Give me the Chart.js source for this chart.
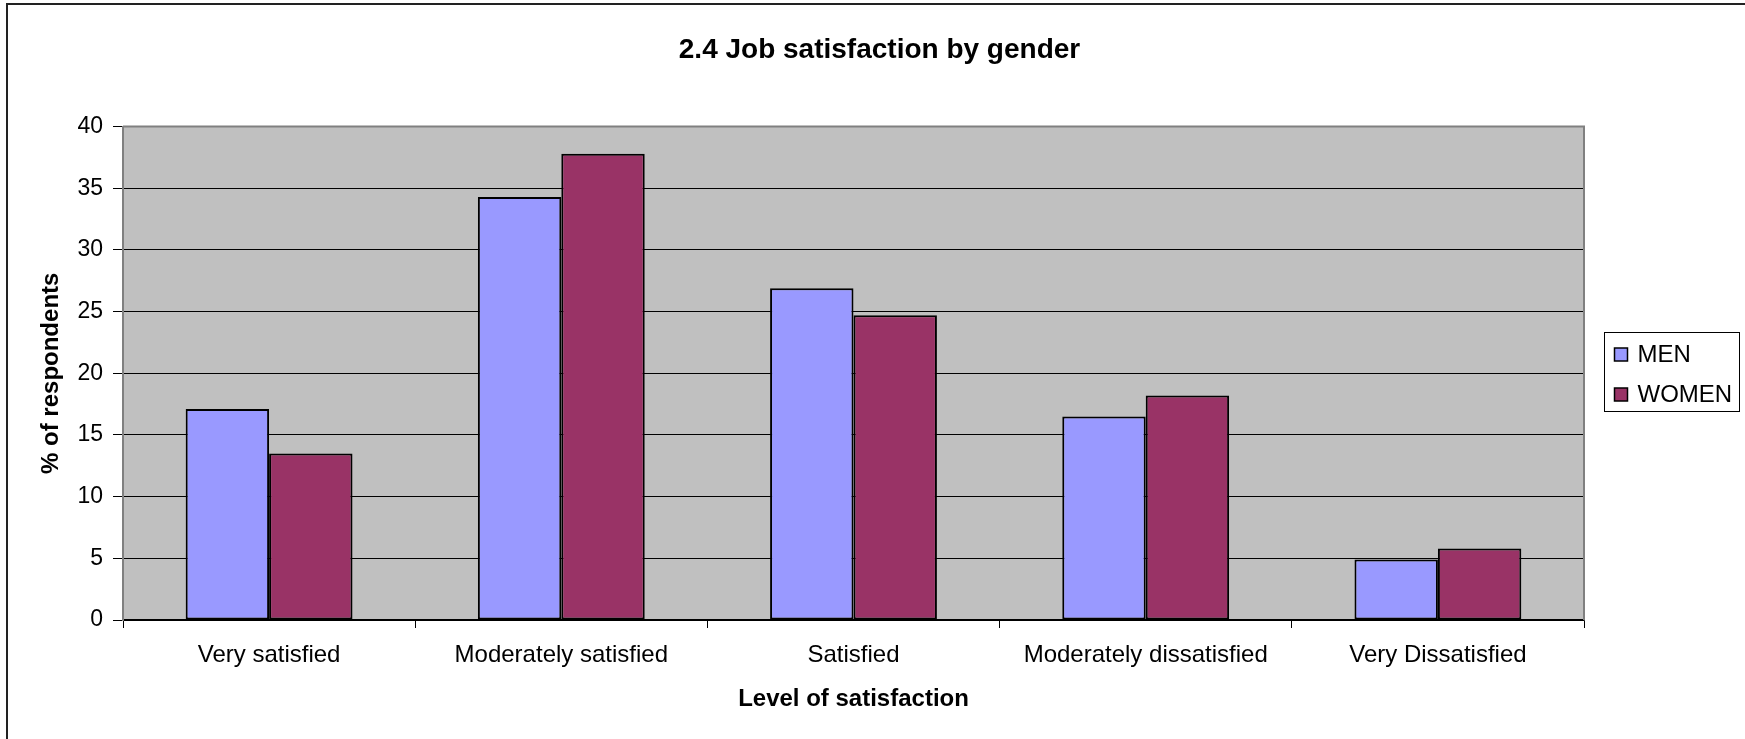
<!DOCTYPE html>
<html>
<head>
<meta charset="utf-8">
<title>2.4 Job satisfaction by gender</title>
<script src="https://cdn.jsdelivr.net/npm/chart.js@4.4.1/dist/chart.umd.min.js"></script>
<style>
  html, body { margin: 0; padding: 0; background: #fff; }
  #wrap { width: 1745px; height: 739px; }
</style>
</head>
<body>
<div id="wrap"><canvas id="chart" width="1745" height="739"></canvas></div>
<script>
// Survey results: share of respondents per satisfaction level
const categories = [
  'Very satisfied',
  'Moderately satisfied',
  'Satisfied',
  'Moderately dissatisfied',
  'Very Dissatisfied'
];
const menValues = [17.1, 34.3, 26.9, 16.5, 4.9];
const womenValues = [13.5, 37.8, 24.7, 18.2, 5.8];
const yMin = 0;
const yMax = 40;
const yStep = 5;

const FONT = '"Liberation Sans", Arial, sans-serif';

// Grey plot background and the outer frame round the whole chart
const chartBackground = {
  id: 'chartBackground',
  beforeDraw(chart) {
    const { ctx, chartArea: a } = chart;
    ctx.save();
    ctx.fillStyle = '#fff';
    ctx.fillRect(0, 0, chart.width, chart.height);
    ctx.fillStyle = '#c0c0c0';
    ctx.fillRect(a.left, a.top, a.right - a.left, a.bottom - a.top);
    ctx.strokeStyle = '#222';
    ctx.lineWidth = 2;
    ctx.strokeRect(7, 4, chart.width + 10, chart.height + 10);
    ctx.restore();
  },
  afterDatasetsDraw(chart) {
    // plot area edge: grey on top and right
    const { ctx, chartArea: a } = chart;
    ctx.save();
    ctx.strokeStyle = '#808080';
    ctx.lineWidth = 2;
    ctx.beginPath();
    ctx.moveTo(a.left, a.top);
    ctx.lineTo(a.right, a.top);
    ctx.lineTo(a.right, a.bottom);
    ctx.stroke();
    ctx.restore();
  }
};

// Legend with a frame, kept in its own layout column on the right
function drawLegend(chart, box) {
  const ctx = chart.ctx;
  const mid = Math.round((box.top + box.bottom) / 2);
  const fx = Math.round(box.left) + 20.5;
  const fy = mid - 40.5;
  ctx.save();
  ctx.fillStyle = '#fff';
  ctx.fillRect(fx, fy, 135, 79);
  ctx.strokeStyle = '#000';
  ctx.lineWidth = 1;
  ctx.strokeRect(fx, fy, 135, 79);
  ctx.font = '24px ' + FONT;
  ctx.textBaseline = 'middle';
  chart.data.datasets.forEach((ds, i) => {
    const cy = fy + 22 + i * 40;
    ctx.fillStyle = ds.backgroundColor;
    ctx.fillRect(fx + 10, cy - 6.5, 13, 13);
    ctx.strokeStyle = '#000';
    ctx.lineWidth = 1.5;
    ctx.strokeRect(fx + 10, cy - 6.5, 13, 13);
    ctx.fillStyle = '#000';
    ctx.fillText(ds.label, fx + 33, cy + 1);
  });
  ctx.restore();
}

const boxedLegend = {
  id: 'boxedLegend',
  beforeInit(chart) {
    Chart.layouts.addBox(chart, {
      position: 'right',
      weight: 0,
      fullSize: false,
      options: {},
      width: 0,
      height: 0,
      isHorizontal() { return false; },
      getPadding() { return { top: 0, left: 0, right: 0, bottom: 0 }; },
      update(maxWidth, maxHeight) {
        this.width = 161;
        this.height = maxHeight;
      },
      draw() {
        drawLegend(chart, this);
      }
    });
  }
};

new Chart(document.getElementById('chart'), {
  type: 'bar',
  data: {
    labels: categories,
    datasets: [
      {
        label: 'MEN',
        data: menValues,
        backgroundColor: '#9999ff',
        borderColor: '#000',
        borderWidth: 2,
        borderSkipped: false
      },
      {
        label: 'WOMEN',
        data: womenValues,
        backgroundColor: '#993366',
        borderColor: '#000',
        borderWidth: 2,
        borderSkipped: false
      }
    ]
  },
  options: {
    responsive: false,
    animation: false,
    devicePixelRatio: 1,
    layout: { padding: { left: 14, right: 0, top: 0, bottom: 0 } },
    datasets: {
      bar: { categoryPercentage: 0.571, barPercentage: 1.0 }
    },
    scales: {
      x: {
        afterFit(scale) { scale.height = 119; },
        grid: {
          offset: true,
          drawOnChartArea: false,
          drawTicks: true,
          tickLength: 8,
          tickColor: '#000'
        },
        border: { color: '#000', width: 1.5 },
        ticks: {
          color: '#000',
          padding: 13,
          maxRotation: 0,
          autoSkip: false,
          font: { family: FONT, size: 24 }
        },
        title: {
          display: true,
          text: 'Level of satisfaction',
          color: '#000',
          padding: { top: 0, bottom: 25 },
          font: { family: FONT, size: 24, weight: 'bold' }
        }
      },
      y: {
        min: yMin,
        max: yMax,
        afterFit(scale) { scale.width = 109; },
        ticks: {
          stepSize: yStep,
          color: '#000',
          padding: 10,
          font: { family: FONT, size: 23 }
        },
        grid: {
          color: '#000',
          lineWidth: 1,
          tickLength: 10,
          tickColor: '#000'
        },
        border: { color: '#808080', width: 2 },
        title: {
          display: true,
          text: '% of respondents',
          color: '#000',
          padding: { top: 23, bottom: 0 },
          font: { family: FONT, size: 24, weight: 'bold' }
        }
      }
    },
    plugins: {
      legend: { display: false },
      tooltip: { enabled: false },
      title: {
        display: true,
        text: '2.4 Job satisfaction by gender',
        color: '#000',
        padding: { top: 33, bottom: 60 },
        font: { family: FONT, size: 28, weight: 'bold' }
      }
    }
  },
  plugins: [chartBackground, boxedLegend]
});
</script>
</body>
</html>
